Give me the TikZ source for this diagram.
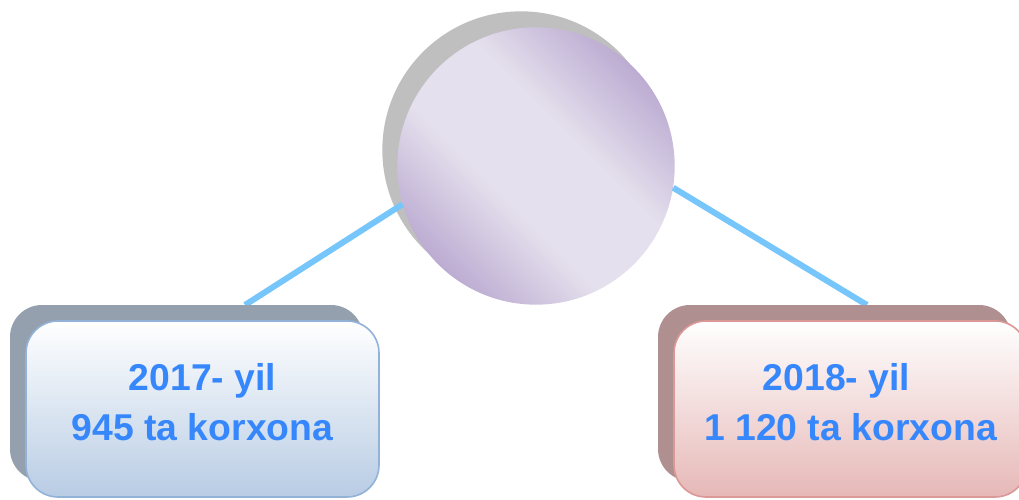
\documentclass[tikz,border=0pt]{standalone}
\usepackage{fontspec}
\setmainfont{Liberation Sans}
\usetikzlibrary{shadows}
\definecolor{linkblue}{HTML}{76C6FB}
\definecolor{hubdark}{HTML}{BCACD2}
\definecolor{hublight}{HTML}{E5E0ED}
\definecolor{txtblue}{HTML}{3787FC}
\definecolor{blueborder}{HTML}{93B2D8}
\definecolor{bluebottom}{HTML}{B8CCE4}
\definecolor{blueshadow}{HTML}{94A0AE}
\definecolor{redborder}{HTML}{DA9896}
\definecolor{redbottom}{HTML}{E6B8B7}
\definecolor{redshadow}{HTML}{AF8F8F}
\pgfdeclarehorizontalshading{hubshade}{100bp}{color(0bp)=(hubdark); color(25bp)=(hubdark);
    color(42bp)=(hublight); color(58bp)=(hublight); color(75bp)=(hubdark); color(100bp)=(hubdark)}
\begin{document}
\begin{tikzpicture}[
                    x=0.75pt, y=-0.75pt,
                    link/.style={draw=linkblue, line width=4.5pt},
                    hub/.style={circle, inner sep=0pt, minimum size=208pt,
                                shading=hubshade, shading angle=45,
                                general shadow={fill=black!25, shadow xshift=-11.25pt, shadow yshift=12pt}},
                    yearbox/.style={rounded corners=24pt, minimum width=264.75pt, minimum height=132pt,
                                line width=1.2pt, align=center, text=txtblue, text depth=10pt,
                                font=\bfseries\fontsize{28pt}{37.5pt}\selectfont},
                    bluebox/.style={yearbox, draw=blueborder,
                                top color=white, bottom color=bluebottom,
                                general shadow={fill=blueshadow, shadow xshift=-12pt, shadow yshift=12pt}},
                    redbox/.style={yearbox, draw=redborder,
                                top color=white, bottom color=redbottom,
                                general shadow={fill=redshadow, shadow xshift=-12pt, shadow yshift=12pt}}
                    ]

    \useasboundingbox (0,0) rectangle (1019,499);
    \clip (0,0) rectangle (1019,499);

    \node [hub] (hub) at (536,166) {};
    \coordinate (lend) at (245,305);
    \coordinate (rend) at (867,305);

    \draw [link] (hub.196) -- (lend);
    \draw [link] (hub.-9) -- (rend);

    \node [bluebox] (y2017) at (202.5,409) {2017- yil\\945 ta korxona};
    \node [redbox] (y2018) at (850.5,409) {2018- yil\hspace*{21pt}\\1 120 ta korxona};
\end{tikzpicture}
\end{document}
